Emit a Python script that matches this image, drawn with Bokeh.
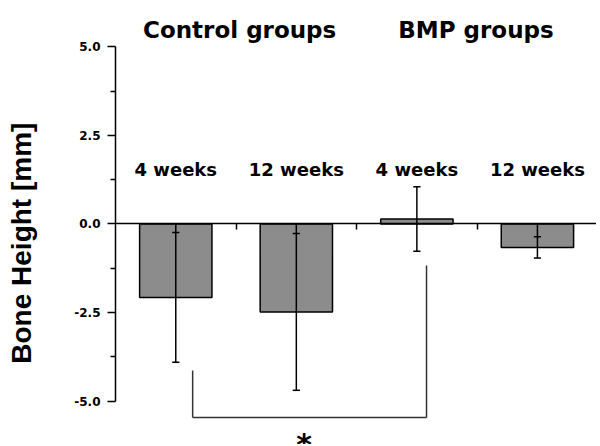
from bokeh.plotting import figure
from bokeh.models import Range1d, FixedTicker, PrintfTickFormatter, ColumnDataSource, LabelSet, Label
from bokeh.core.properties import value
from bokeh.embed import file_html
from bokeh.resources import INLINE

# ---- data ----
categories = ["4 weeks", "12 weeks", "4 weeks", "12 weeks"]
groups = ["Control groups", "BMP groups"]
group_centers = [0.53, 2.49]
bone_height = [-2.07, -2.48, 0.14, -0.66]
bone_height_sd = [1.83, 2.21, 0.91, 0.30]
y_ticks = [-5.0, -2.5, 0.0, 2.5, 5.0]
y_minor_ticks = [-3.75, -1.25, 1.25, 3.75]
y_title = "Bone Height [mm]"
# significance bracket (x in category units, y in mm)
bracket_x = [0.14, 2.08]
bracket_top = [-4.13, -1.17]
bracket_bottom = -5.46
star_x = 1.065
star_text = "*"

idx = list(range(len(categories)))
upper = [m + s for m, s in zip(bone_height, bone_height_sd)]
lower = [m - s for m, s in zip(bone_height, bone_height_sd)]
seg_top = [max(u, 0.0) for u in upper]
seg_bot = [min(l, 0.0) for l in lower]
cap = 0.03

p = figure(width=596, height=444, output_backend="svg", toolbar_location=None,
           x_range=Range1d(-0.5, 3.49), y_range=Range1d(-6.218, 5.795),
           x_axis_location="above",
           min_border_left=115, min_border_right=0, min_border_top=18, min_border_bottom=0)
p.grid.visible = False
p.outline_line_color = None

# x axis drawn at y = 0
xa = p.xaxis[0]
xa.fixed_location = 0
xa.ticker = FixedTicker(ticks=[i + 0.5 for i in idx], minor_ticks=[])
xa.major_tick_in = 6
xa.major_tick_out = 0
xa.minor_tick_in = 0
xa.minor_tick_out = 0
xa.major_label_standoff = 0
xa.major_label_overrides = {i + 0.5: "" for i in idx}
xa.axis_line_width = 1.5
xa.major_tick_line_width = 1.5
xa.axis_line_color = "black"

ya = p.yaxis[0]
ya.bounds = (-5, 5)
ya.ticker = FixedTicker(ticks=y_ticks, minor_ticks=y_minor_ticks)
ya.formatter = PrintfTickFormatter(format="%.1f")
ya.major_tick_out = 8
ya.major_tick_in = 0
ya.minor_tick_out = 5
ya.minor_tick_in = 0
ya.axis_line_width = 1.5
ya.major_tick_line_width = 1.5
ya.minor_tick_line_width = 1.5
ya.major_label_standoff = 7
ya.major_label_text_font = "DejaVu Sans"
ya.major_label_text_font_style = "bold"
ya.major_label_text_font_size = "12px"
ya.major_label_text_color = "black"
# trailing no-break spaces nudge the centred title down to where the reference has it
ya.axis_label = y_title + "\u00a0\u00a0\u00a0"
ya.axis_label_text_font = "Liberation Sans"
ya.axis_label_text_font_style = "bold"
ya.axis_label_text_font_size = "28px"
ya.axis_label_text_color = "black"
ya.axis_label_standoff = 34

src = ColumnDataSource(dict(x=idx, top=bone_height, up=upper, lo=lower,
                            st=seg_top, sb=seg_bot, lbl=categories,
                            xl=[i - cap for i in idx], xr=[i + cap for i in idx]))

p.vbar(x="x", width=0.6, top="top", bottom=0, source=src,
       fill_color="#8c8c8c", line_color="black", line_width=1.5)
p.segment(x0="x", y0="st", x1="x", y1="sb", source=src, line_color="black", line_width=1.5)
p.segment(x0="xl", y0="up", x1="xr", y1="up", source=src, line_color="black", line_width=1.5)
p.segment(x0="xl", y0="lo", x1="xr", y1="lo", source=src, line_color="black", line_width=1.5)

# week labels
p.add_layout(LabelSet(x="x", y=1.34, text="lbl", source=src, text_align="center",
                      text_baseline="alphabetic", text_font=value("DejaVu Sans"),
                      text_font_style="bold", text_font_size="18px", text_color="black"))
# group titles
gsrc = ColumnDataSource(dict(x=group_centers, t=groups))
p.add_layout(LabelSet(x="x", y=5.245, text="t", source=gsrc, text_align="center",
                      text_baseline="alphabetic", text_font=value("DejaVu Sans"),
                      text_font_style="bold", text_font_size="23px", text_color="black"))

# significance bracket
p.segment(x0=bracket_x, y0=bracket_top, x1=bracket_x, y1=[bracket_bottom] * 2,
          line_color="#333333", line_width=1.5)
p.segment(x0=[bracket_x[0]], y0=[bracket_bottom], x1=[bracket_x[1]], y1=[bracket_bottom],
          line_color="#333333", line_width=1.5)
p.add_layout(Label(x=star_x, y=-5.72, text=star_text, text_align="center", text_baseline="top",
                   text_font="DejaVu Sans", text_font_style="bold", text_font_size="30px",
                   text_color="black"))

open("out.html", "w").write(file_html(p, INLINE))
